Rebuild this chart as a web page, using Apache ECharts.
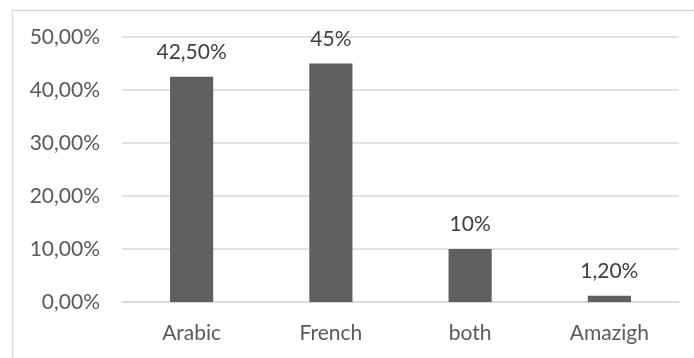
<!DOCTYPE html>
<html>
<head>
<meta charset="utf-8">
<script src="https://cdn.jsdelivr.net/npm/echarts@6/dist/echarts.min.js"></script>
<style>
  html, body { margin: 0; padding: 0; background: #fff; }
  #chart { width: 694px; height: 358px; }
</style>
</head>
<body>
<div id="chart"></div>
<script>
const categories = ['Arabic', 'French', 'both', 'Amazigh'];
const shares = [42.5, 45, 10, 1.2];
const shareLabels = ['42,50%', '45%', '10%', '1,20%'];
const yTicks = { min: 0, max: 50, interval: 10 };

const font = 'Lato';
const chart = echarts.init(document.getElementById('chart'));

chart.setOption({
  animation: false,
  textStyle: { fontFamily: font },
  graphic: [{
    type: 'rect',
    left: 10,
    top: 8,
    shape: { width: 720, height: 400 },
    style: { fill: 'none', stroke: '#d9d9d9', lineWidth: 1.5 },
    silent: true
  }],
  grid: { left: 122, right: 15, top: 37, bottom: 56 },
  xAxis: {
    type: 'category',
    data: categories,
    axisTick: { show: false },
    axisLine: { lineStyle: { color: '#d9d9d9', width: 1.5 } },
    axisLabel: { color: '#595959', fontSize: 21, fontFamily: font, margin: 21 }
  },
  yAxis: {
    type: 'value',
    min: yTicks.min,
    max: yTicks.max,
    interval: yTicks.interval,
    axisLine: { show: false },
    axisTick: { show: false },
    splitLine: { lineStyle: { color: '#d9d9d9', width: 1.5 } },
    axisLabel: {
      color: '#595959',
      fontSize: 21,
      fontFamily: font,
      margin: 22,
      formatter: v => v.toFixed(2).replace('.', ',') + '%'
    }
  },
  series: [{
    type: 'bar',
    data: shares,
    barWidth: '31%',
    itemStyle: { color: '#5f5f5f' },
    label: {
      show: true,
      position: 'top',
      distance: 14,
      color: '#404040',
      fontSize: 21,
      fontFamily: font,
      formatter: p => shareLabels[p.dataIndex]
    }
  }]
});
</script>
</body>
</html>
